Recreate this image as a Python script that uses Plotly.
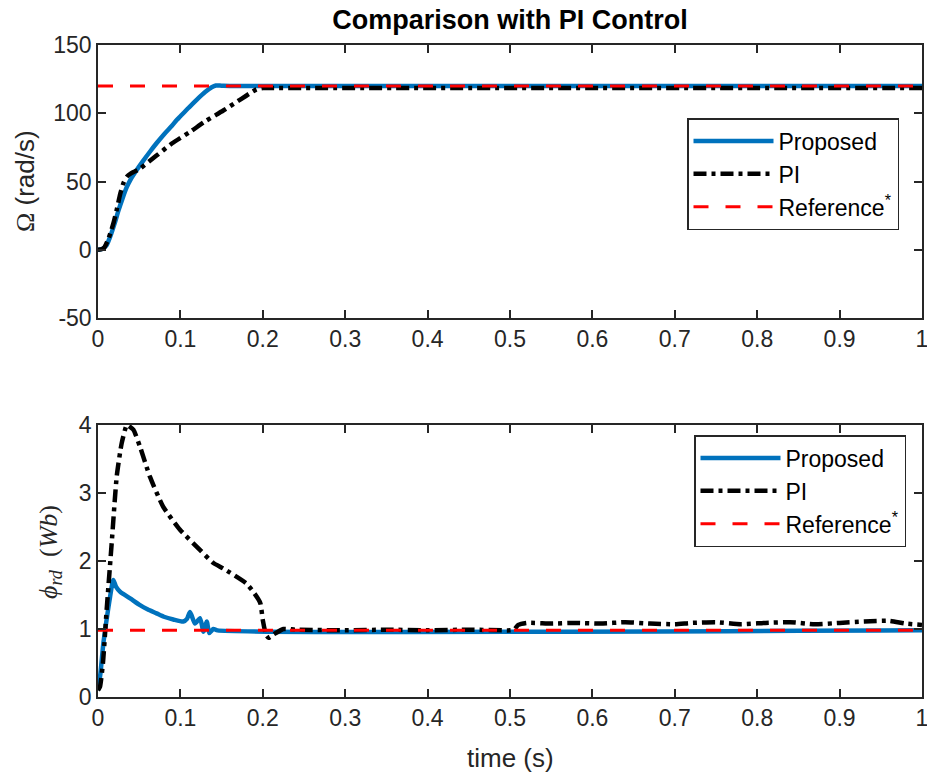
import plotly.graph_objects as go

# ---------------- data ----------------
# Top panel: rotor speed Omega (rad/s)
t_prop_speed = [0, 0.005, 0.01, 0.015, 0.02, 0.025, 0.03, 0.035, 0.04, 0.047, 0.055, 0.063,
                0.071, 0.08, 0.09, 0.0955, 0.1, 0.11, 0.12, 0.13, 0.138, 0.143, 0.15, 0.16, 1.0]
w_prop = [0, 0.5, 3, 10, 19, 29, 38, 46, 52, 58.5, 65.3, 71.8,
          78, 84.5, 91, 95, 97.8, 104, 110, 115.5, 119, 120.3, 120.2, 120, 120]

t_pi_speed = [0, 0.005, 0.008, 0.012, 0.016, 0.019, 0.023, 0.027, 0.031, 0.035, 0.04, 0.045,
              0.05, 0.071, 0.09, 0.112, 0.13, 0.152, 0.17, 0.1925, 0.2, 0.21, 1.0]
w_pi = [0, 0.5, 2, 7, 14, 20, 30, 41, 49, 53.6, 56, 57.5,
        59, 69, 78, 86.5, 94, 102, 109, 117.5, 118.5, 118.5, 118.5]

t_ref_speed = [0, 1.0]
w_ref = [120, 120]

# Bottom panel: rotor flux phi_rd (Wb)
t_prop_flux = [0, 0.003, 0.0065, 0.01, 0.0146, 0.0186, 0.022, 0.0267, 0.03, 0.039, 0.051,
               0.06, 0.071, 0.08, 0.0914, 0.1035, 0.108, 0.1117, 0.1177, 0.1238, 0.128,
               0.132, 0.135, 0.14, 0.145, 1.0]
phi_prop = [0.1, 0.35, 0.79, 1.1, 1.47, 1.72, 1.62, 1.55, 1.52, 1.45, 1.35,
            1.29, 1.23, 1.18, 1.14, 1.11, 1.15, 1.25, 1.08, 1.16, 0.96,
            1.11, 0.94, 1.0, 0.98, 0.98]

t_pi_flux = [0, 0.0024, 0.006, 0.0105, 0.0166, 0.0227, 0.0287, 0.035, 0.038, 0.043, 0.051,
             0.063, 0.079, 0.0995, 0.124, 0.14, 0.152, 0.18, 0.19, 0.197, 0.2, 0.204,
             0.207, 0.213, 0.225, 0.24, 0.3, 0.35, 0.4, 0.45, 0.5, 0.505, 0.51, 0.52,
             0.55, 0.58, 0.61, 0.64, 0.67, 0.70, 0.72, 0.75, 0.78, 0.81, 0.84, 0.87,
             0.90, 0.93, 0.96, 0.98, 1.0]
phi_pi = [0.1, 0.15, 0.5, 1.28, 2.26, 3.24, 3.73, 4.0, 3.98, 3.93, 3.68,
          3.24, 2.8, 2.46, 2.16, 1.97, 1.89, 1.67, 1.52, 1.38, 1.13, 0.91,
          0.87, 0.92, 1.0, 0.99, 0.98, 0.99, 0.98, 0.99, 0.98, 0.99, 1.06, 1.09,
          1.08, 1.09, 1.08, 1.10, 1.08, 1.07, 1.09, 1.10, 1.07, 1.09, 1.10, 1.07,
          1.09, 1.11, 1.12, 1.08, 1.06]

t_ref_flux = [0, 1.0]
phi_ref = [0.98, 0.98]

x_tickvals = [0, 0.1, 0.2, 0.3, 0.4, 0.5, 0.6, 0.7, 0.8, 0.9, 1.0]
x_ticktext = ["0", "0.1", "0.2", "0.3", "0.4", "0.5", "0.6", "0.7", "0.8", "0.9", "1"]
y1_tickvals = [-50, 0, 50, 100, 150]
y1_ticktext = ["-50", "0", "50", "100", "150"]
y2_tickvals = [0, 1, 2, 3, 4]
y2_ticktext = ["0", "1", "2", "3", "4"]

names = ["Proposed", "PI", "Reference<sup>*</sup>"]

# ---------------- styling ----------------
BLUE = "#0072BD"
BLACK = "#000000"
RED = "#FF0000"
AX = "#262626"
FONT = "Liberation Sans, Arial, sans-serif"
SERIF = "Liberation Serif, Times New Roman, serif"

W, H = 927, 776
L, R, T, B = 98, 5, 45, 79
ph = H - T - B


def py(p):
    return (H - B - p) / ph


def px(p):
    return (p - L) / (W - L - R)


fig = go.Figure()

pi_dash = "13px,5px,4px,5px"
ref_dash = "15px,17px"

fig.add_trace(go.Scatter(x=t_prop_speed, y=w_prop, mode="lines", name=names[0],
                         line=dict(color=BLUE, width=4.5, shape="spline", smoothing=0.8),
                         xaxis="x", yaxis="y", legend="legend"))
fig.add_trace(go.Scatter(x=t_pi_speed, y=w_pi, mode="lines", name=names[1],
                         line=dict(color=BLACK, width=4.5, dash=pi_dash, shape="spline", smoothing=0.6),
                         xaxis="x", yaxis="y", legend="legend"))
fig.add_trace(go.Scatter(x=t_ref_speed, y=w_ref, mode="lines", name=names[2],
                         line=dict(color=RED, width=3, dash=ref_dash), xaxis="x", yaxis="y", legend="legend"))

fig.add_trace(go.Scatter(x=t_prop_flux, y=phi_prop, mode="lines", name=names[0],
                         line=dict(color=BLUE, width=4.5, shape="spline", smoothing=0.6),
                         xaxis="x2", yaxis="y2", legend="legend2"))
fig.add_trace(go.Scatter(x=t_pi_flux, y=phi_pi, mode="lines", name=names[1],
                         line=dict(color=BLACK, width=4.5, dash=pi_dash, shape="spline", smoothing=0.5),
                         xaxis="x2", yaxis="y2", legend="legend2"))
fig.add_trace(go.Scatter(x=t_ref_flux, y=phi_ref, mode="lines", name=names[2],
                         line=dict(color=RED, width=3, dash=ref_dash), xaxis="x2", yaxis="y2", legend="legend2"))

axis_common = dict(showline=True, linecolor=AX, linewidth=1.5, mirror="ticks",
                   ticks="inside", ticklen=8, tickwidth=1.5, tickcolor=AX,
                   showgrid=False, zeroline=False, automargin=False,
                   ticklabeloverflow="allow",
                   tickfont=dict(family=FONT, size=23, color=AX))

legend_common = dict(font=dict(family=FONT, size=23, color="#000000"),
                     bgcolor="white", bordercolor=AX, borderwidth=1.5,
                     xanchor="left", yanchor="top", itemwidth=80,
                     tracegroupgap=0)

fig.update_layout(
    width=W, height=H,
    margin=dict(l=L, r=R, t=T, b=B, autoexpand=False),
    paper_bgcolor="white", plot_bgcolor="white",
    showlegend=True,
    title=dict(text="<b>Comparison with PI Control</b>", x=0.5 * (L + (W - R)) / W, xanchor="center",
               y=1 - 20 / H, yanchor="middle", font=dict(family=FONT, size=27, color="#000000")),
    xaxis=dict(domain=[0, 1], range=[0, 1], tickvals=x_tickvals, ticktext=x_ticktext,
               anchor="y", **axis_common),
    yaxis=dict(domain=[py(318), 1], range=[-50, 150], tickvals=y1_tickvals, ticktext=y1_ticktext,
               anchor="x", **axis_common),
    xaxis2=dict(domain=[0, 1], range=[0, 1], tickvals=x_tickvals, ticktext=x_ticktext,
                anchor="y2", **axis_common),
    yaxis2=dict(domain=[0, py(425)], range=[0, 4], tickvals=y2_tickvals, ticktext=y2_ticktext,
                anchor="x2", **axis_common),
    legend=dict(x=px(687), y=py(118), **legend_common),
    legend2=dict(x=px(694), y=py(435), **legend_common),
    annotations=[
        dict(text="<span style='font-family:Liberation Serif'>Ω</span> (rad/s)",
             xref="paper", yref="paper", x=px(25), y=py(181), textangle=-90,
             xanchor="center", yanchor="middle", showarrow=False,
             font=dict(family=FONT, size=26, color=AX)),
        dict(text="<i>ϕ</i><sub><i>rd</i></sub>  (<i>Wb</i>)",
             xref="paper", yref="paper", x=px(50), y=py(552), textangle=-90,
             xanchor="center", yanchor="middle", showarrow=False,
             font=dict(family=SERIF, size=26, color=AX)),
        dict(text="time (s)", xref="paper", yref="paper", x=0.5, y=py(758),
             xanchor="center", yanchor="middle", showarrow=False,
             font=dict(family=FONT, size=26, color=AX)),
    ],
)

fig.write_html("out.html")
